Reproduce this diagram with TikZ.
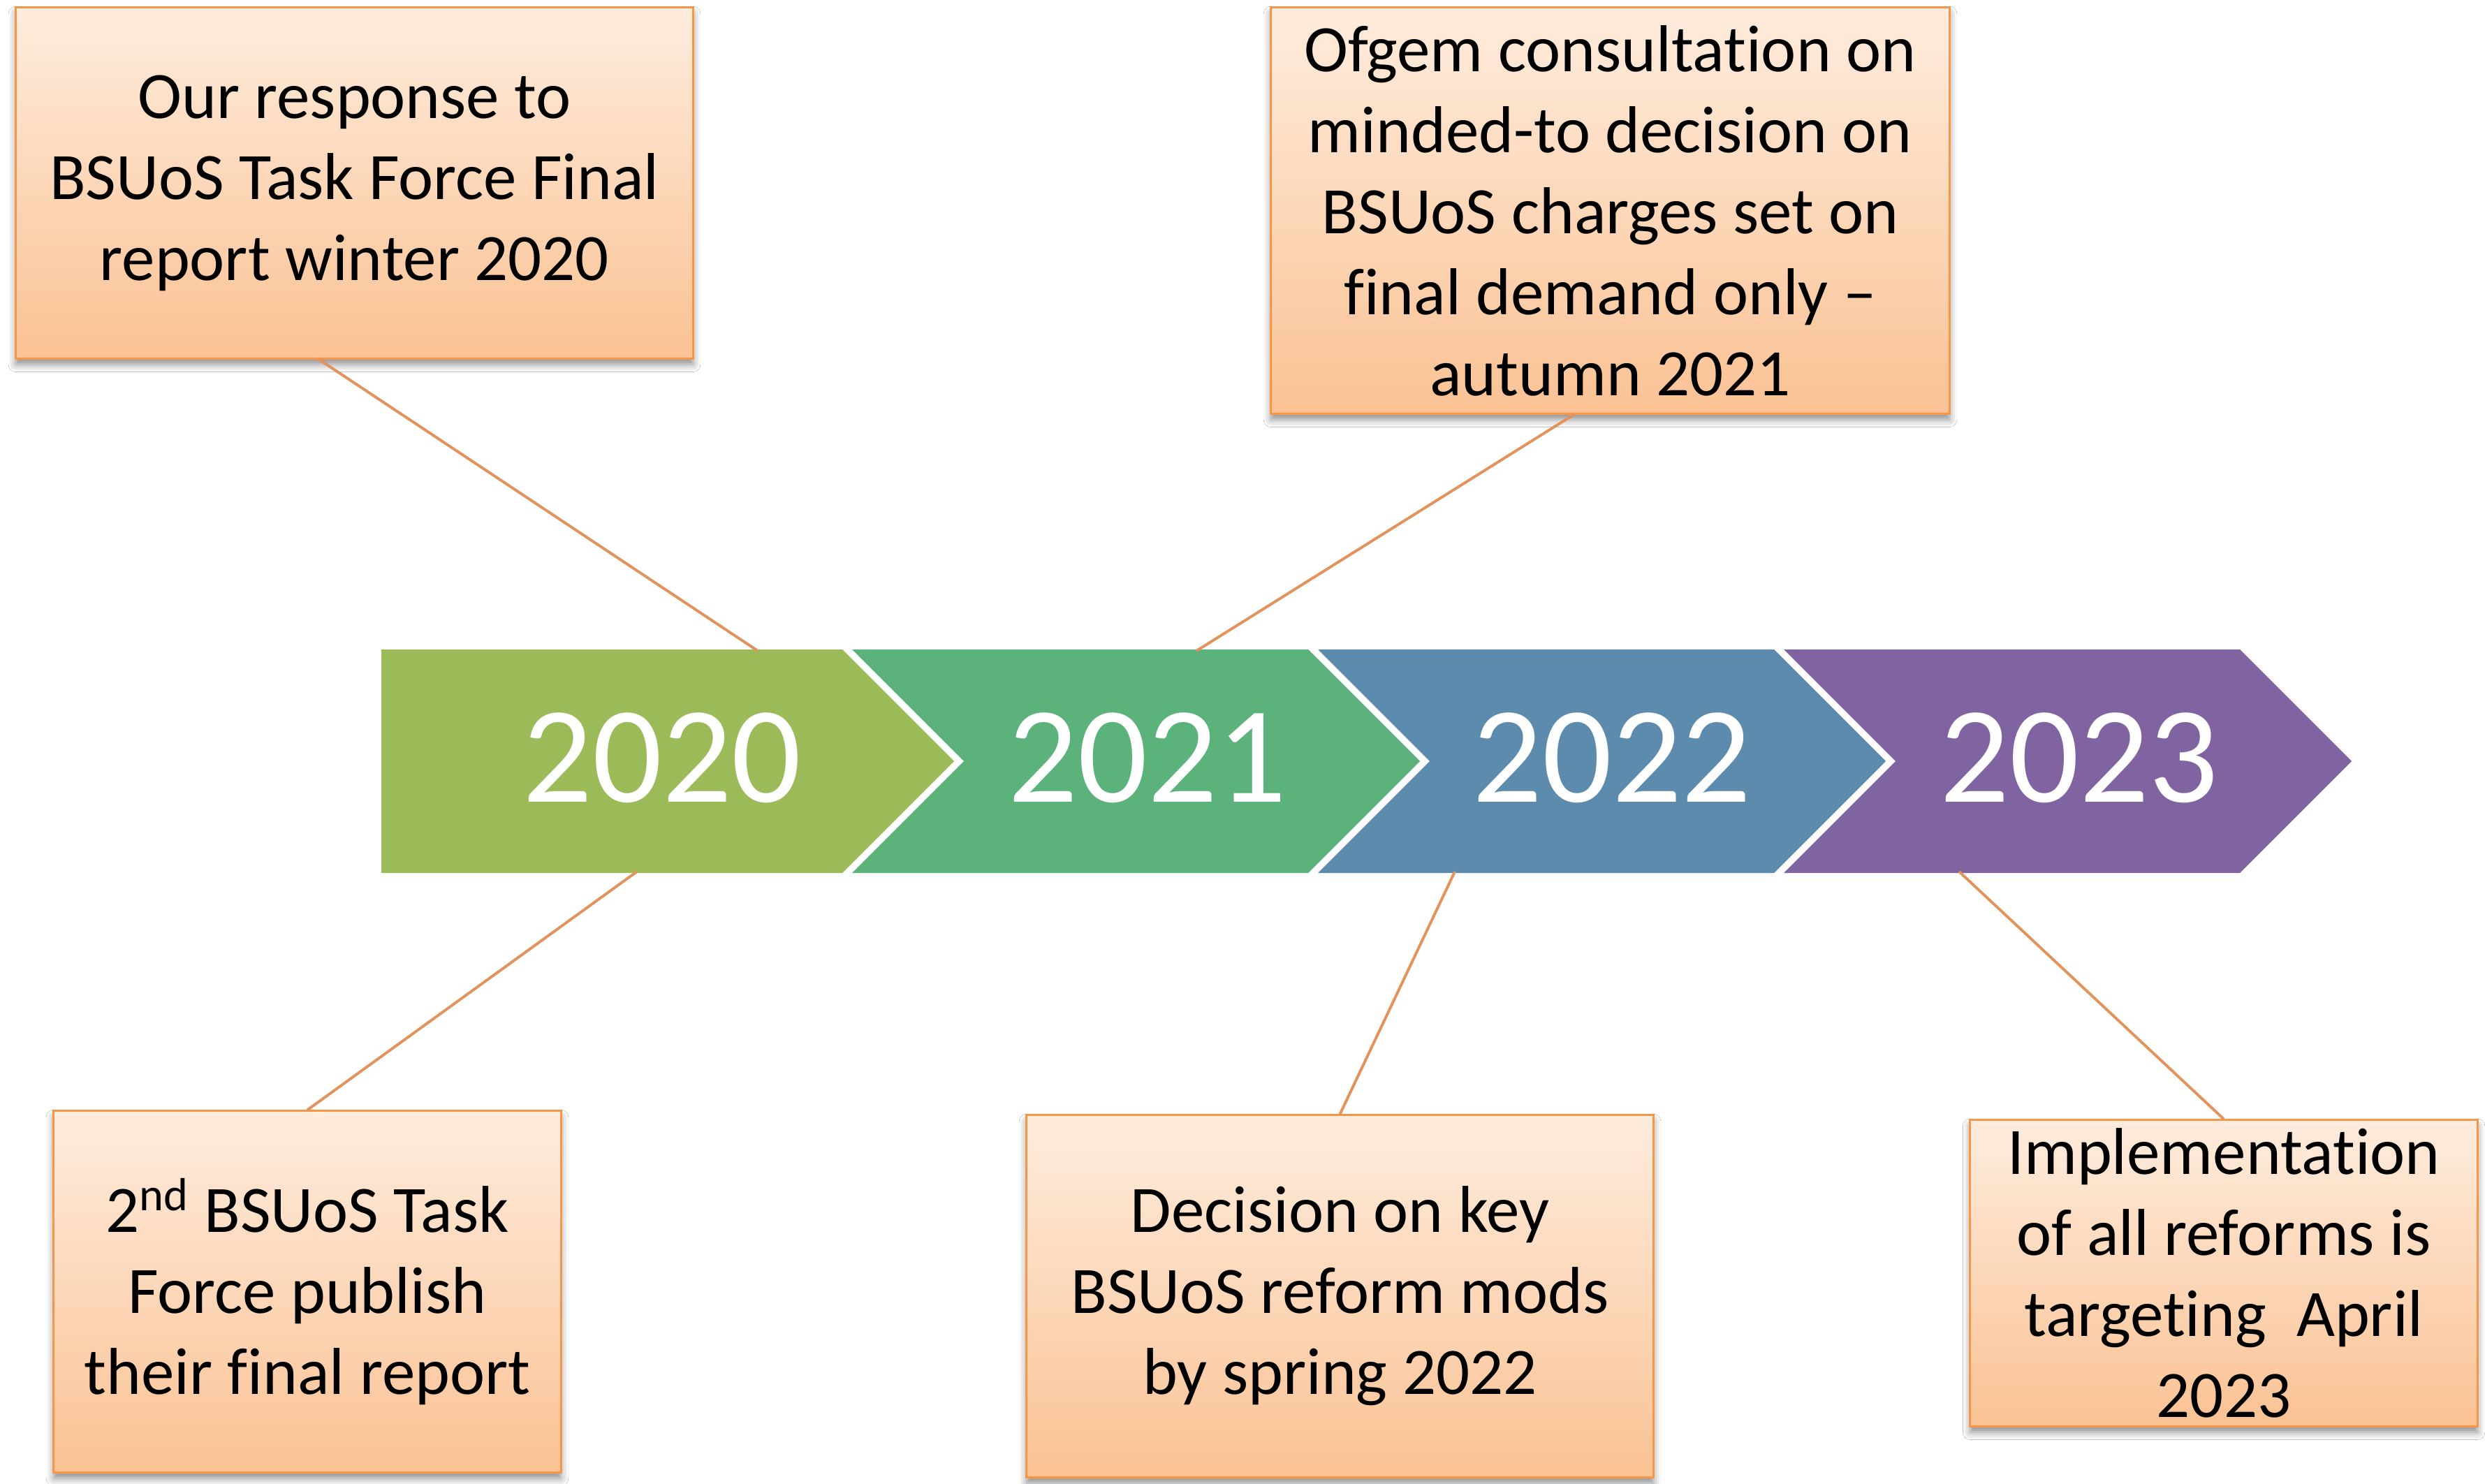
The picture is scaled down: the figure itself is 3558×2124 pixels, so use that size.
\documentclass[tikz,border=0pt]{standalone}
\usepackage{fontspec}
\setmainfont[Ligatures={NoCommon,NoContextual}]{Carlito}
\usetikzlibrary{calc,shadows.blur}

\definecolor{c20}{HTML}{9BBB59}
\definecolor{c21}{HTML}{5BB27B}
\definecolor{c22}{HTML}{5C8BAE}
\definecolor{c23}{HTML}{8064A2}
\definecolor{acc}{HTML}{F79646}
\definecolor{boxtop}{RGB}{254,236,221}
\definecolor{boxbot}{RGB}{250,194,148}
\definecolor{linkc}{RGB}{226,146,90}

\begin{document}
\begin{tikzpicture}[x=0.01cm,y=-0.01cm,
  note/.style={draw=acc, line width=0.8pt, top color=boxtop, bottom color=boxbot,
    inner sep=0pt, align=center, font=\fontsize{27}{33}\selectfont, text=black,
    blur shadow={shadow xshift=0pt, shadow yshift=-2.5pt, shadow blur radius=3pt, shadow opacity=45}},
  year/.style={text=white, font=\fontsize{56}{60}\selectfont, inner sep=0pt},
  linkline/.style={draw=linkc, line width=1.1pt}]

% canvas
\fill[white] (0,0) rectangle (3558,2124);
\useasboundingbox (0,0) rectangle (3558,2124);

% timeline chevrons
\fill[c20] (546,930) -- (1206,930) -- (1366,1090) -- (1206,1250) -- (546,1250) -- cycle;
\foreach \n/\c in {1220/c21, 1887/c22, 2554/c23}
  \fill[\c] (\n,930) -- ++(653,0) -- ++(160,160) -- ++(-160,160) -- ++(-653,0) -- ++(160,-160) -- cycle;

% attachment points on the chevrons
\coordinate (t1) at (1085,932);
\coordinate (t2) at (1713,932);
\coordinate (u1) at (912,1248);
\coordinate (u3) at (2083,1248);
\coordinate (u4) at (2805,1248);

% year labels
\node[year] (y20) at (948,1085) {2020};
\node[year] (y21) at (1643,1085) {2021};
\node[year] (y22) at (2308,1085) {2022};
\node[year] (y23) at (2977,1085) {2023};

% milestone boxes
\node[note, minimum width=9.69cm, minimum height=5.02cm] (b1) at (507.5,262)
  {Our response to\\BSUoS Task Force Final\\report winter 2020};
\node[note, minimum width=9.71cm, minimum height=5.81cm] (b2) at (2305.5,301.5)
  {Ofgem consultation on\\minded-to decision on\\BSUoS charges set on\\final demand only –\\autumn 2021};
\node[note, minimum width=7.26cm, minimum height=5.17cm] (b3) at (440,1849.5)
  {2\textsuperscript{nd} BSUoS Task\\Force publish\\their final report};
\node[note, minimum width=8.97cm, minimum height=5.18cm] (b4) at (1918.5,1856)
  {Decision on key\\BSUoS reform mods\\by spring 2022};
\node[note, minimum width=7.26cm, minimum height=4.38cm] (b5) at (3184,1823)
  {Implementation\\of all reforms is\\targeting\ \ April\\2023};

% connectors
\draw[linkline] ($(b1.south)+(-51,0)$) -- (t1);
\draw[linkline] ($(b2.south)+(-52,0)$) -- (t2);
\draw[linkline] (u1) -- (b3.north);
\draw[linkline] (u3) -- (b4.north);
\draw[linkline] (u4) -- (b5.north);

\end{tikzpicture}
\end{document}
